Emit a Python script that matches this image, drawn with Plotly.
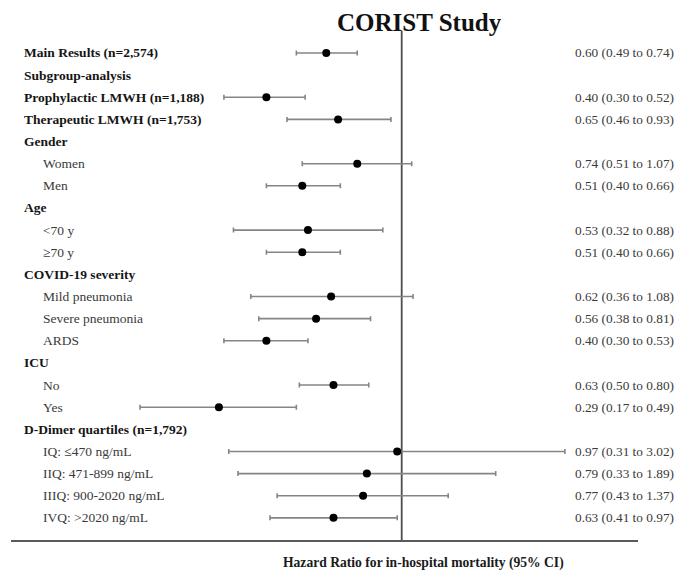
import plotly.graph_objects as go

# ---- data ----
labels = [
    "Main Results (n=2,574)",
    "Subgroup-analysis",
    "Prophylactic LMWH (n=1,188)",
    "Therapeutic LMWH (n=1,753)",
    "Gender",
    "Women",
    "Men",
    "Age",
    "<70 y",
    "≥70 y",
    "COVID-19 severity",
    "Mild pneumonia",
    "Severe pneumonia",
    "ARDS",
    "ICU",
    "No",
    "Yes",
    "D-Dimer quartiles (n=1,792)",
    "IQ: ≤470 ng/mL",
    "IIQ: 471-899 ng/mL",
    "IIIQ: 900-2020 ng/mL",
    "IVQ: >2020 ng/mL",
]
row_kind = ["head", "head", "head", "head", "head", "sub", "sub", "head", "sub", "sub",
            "head", "sub", "sub", "sub", "head", "sub", "sub", "head", "sub", "sub", "sub", "sub"]
hr = [0.60, None, 0.40, 0.65, None, 0.74, 0.51, None, 0.53, 0.51,
      None, 0.62, 0.56, 0.40, None, 0.63, 0.29, None, 0.97, 0.79, 0.77, 0.63]
ci_lo = [0.49, None, 0.30, 0.46, None, 0.51, 0.40, None, 0.32, 0.40,
         None, 0.36, 0.38, 0.30, None, 0.50, 0.17, None, 0.31, 0.33, 0.43, 0.41]
ci_hi = [0.74, None, 0.52, 0.93, None, 1.07, 0.66, None, 0.88, 0.66,
         None, 1.08, 0.81, 0.53, None, 0.80, 0.49, None, 3.02, 1.89, 1.37, 0.97]
title_text = "CORIST Study"
x_title = "Hazard Ratio for in-hospital mortality (95% CI)"

# page has an 8px body margin; figure is sized to fill the rest of the window
OFF = 8
W, H = 688 - OFF, 575 - OFF
FONT = "Liberation Serif"


def fx(px_ref):
    return (px_ref - OFF) / W


def fy(py_ref):
    return 1 - (py_ref - OFF) / H


rows = list(range(len(labels)))
pts = [(r, h, l, u) for r, h, l, u in zip(rows, hr, ci_lo, ci_hi) if h is not None]
py = [p[0] for p in pts]
px = [p[1] for p in pts]
e_plus = [p[3] - p[1] for p in pts]
e_minus = [p[1] - p[2] for p in pts]

fig = go.Figure()
fig.add_trace(go.Scatter(
    x=px, y=py, mode="markers",
    marker=dict(color="black", size=8),
    error_x=dict(type="data", symmetric=False, array=e_plus, arrayminus=e_minus,
                 color="#858585", thickness=1.6, width=2.5),
    cliponaxis=False, showlegend=False, hoverinfo="skip",
))

annotations = []
for r, lab, kind in zip(rows, labels, row_kind):
    if kind == "head":
        annotations.append(dict(x=fx(22), xref="paper", y=r, yref="y", text="<b>%s</b>" % lab,
                                showarrow=False, xanchor="left", yanchor="middle",
                                font=dict(family=FONT, size=13.5, color="#151515")))
    else:
        annotations.append(dict(x=fx(41), xref="paper", y=r, yref="y", text=lab,
                                showarrow=False, xanchor="left", yanchor="middle",
                                font=dict(family=FONT, size=13.5, color="#3a3a3a")))
for r, h, l, u in pts:
    annotations.append(dict(x=fx(573), xref="paper", y=r, yref="y",
                            text="%.2f (%.2f to %.2f)" % (h, l, u),
                            showarrow=False, xanchor="left", yanchor="middle",
                            font=dict(family=FONT, size=13.3, color="#3a3a3a")))
annotations.append(dict(x=fx(423), xref="paper", y=fy(563), yref="paper",
                        text="<b>%s</b>" % x_title, showarrow=False,
                        xanchor="center", yanchor="middle",
                        font=dict(family=FONT, size=13.6, color="#1a1a1a")))
annotations.append(dict(x=fx(419), xref="paper", y=1, yref="paper",
                        text="<b>%s</b>" % title_text, showarrow=False,
                        xanchor="center", yanchor="top", borderpad=0,
                        font=dict(family=FONT, size=25, color="#111111")))

n = len(labels)
row0_px, row_step = 53.0, 22.14
fig.update_layout(
    width=W, height=H,
    margin=dict(l=0, r=0, t=0, b=0),
    paper_bgcolor="white", plot_bgcolor="white",
    xaxis=dict(type="log", domain=[fx(11), fx(638)], range=[-1.1491, 0.695],
               showgrid=False, zeroline=False, showticklabels=False, ticks="",
               showline=True, linecolor="#5a5a5a", linewidth=2),
    yaxis=dict(domain=[fy(540), 1], range=[n, (OFF - row0_px) / row_step],
               showgrid=False, zeroline=False, showticklabels=False, ticks="",
               showline=False),
    annotations=annotations,
    shapes=[dict(type="line", xref="x", yref="y", x0=1, x1=1, y0=-1, y1=n,
                 line=dict(color="#4d4d4d", width=1.8), layer="below")],
)

fig.write_html("out.html")
